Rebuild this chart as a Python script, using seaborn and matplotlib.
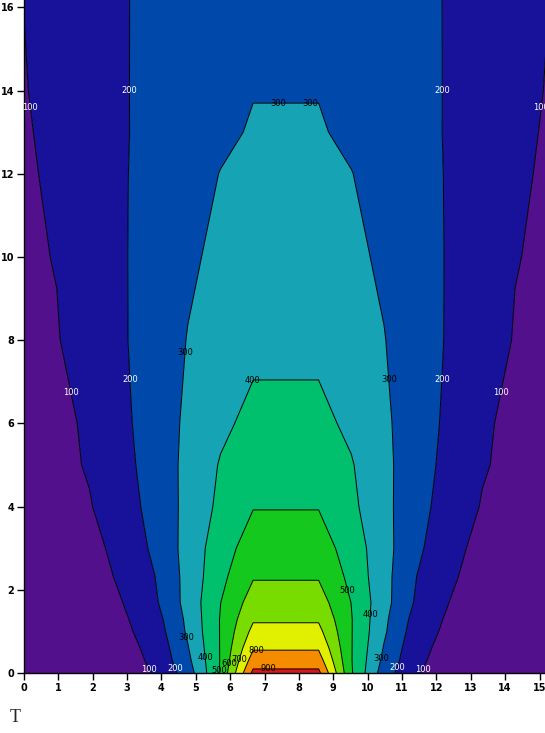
import numpy as np
import matplotlib
matplotlib.use("Agg")
import matplotlib.pyplot as plt
import seaborn as sns

# ---------------- data ----------------
x_cols = [0.0, 0.9525, 1.905, 2.8575, 3.81, 4.7625, 5.715, 6.6675, 7.62,
          8.5725, 9.525, 10.4775, 11.43, 12.3825, 13.335, 14.2875, 15.24]
t_rows = [0.0, 0.3, 0.6, 1.0, 1.3, 1.7, 2.3, 3.0, 4.0, 5.0, 6.0, 7.0, 8.0,
          10.0, 12.0, 13.0, 14.0, 16.2]
values = [
    [1, 3, 15, 60, 105, 247, 510, 925, 925, 925, 510, 247, 105, 60, 15, 3, 1],
    [2, 5, 20, 67, 115, 275, 505, 849, 849, 849, 505, 275, 115, 67, 20, 5, 2],
    [3, 7, 25, 70, 125, 293, 505, 790, 790, 790, 505, 293, 125, 70, 25, 7, 3],
    [4, 9, 30, 78, 145, 314, 505, 727, 727, 727, 505, 314, 145, 78, 30, 9, 4],
    [4, 10, 35, 85, 160, 321, 505, 688, 688, 688, 505, 321, 160, 85, 35, 10, 4],
    [5, 13, 42, 99, 185, 334, 498, 645, 645, 645, 498, 334, 185, 99, 42, 13, 5],
    [7, 18, 50, 118, 199, 332, 474, 594, 594, 594, 474, 332, 199, 118, 50, 18, 7],
    [15, 30, 64, 138, 217, 335, 456, 547, 547, 547, 456, 335, 217, 138, 64, 30, 15],
    [40, 60, 94, 158, 232, 327, 422, 496, 496, 496, 422, 327, 232, 158, 94, 60, 40],
    [55, 75, 108, 170, 242, 324, 407, 457, 457, 457, 407, 324, 242, 170, 108, 75, 55],
    [65, 80, 112, 179, 247, 317, 380, 426, 426, 426, 380, 317, 247, 179, 112, 80, 65],
    [72, 82, 131, 185, 248, 309, 355, 401, 401, 401, 355, 309, 248, 185, 131, 82, 72],
    [80, 95, 142, 190, 246, 303, 341, 379, 379, 379, 341, 303, 246, 190, 142, 95, 80],
    [88, 103, 149, 192, 239, 286, 319, 345, 345, 345, 319, 286, 239, 192, 149, 103, 88],
    [92, 110, 154, 193, 230, 267, 302, 318, 318, 318, 302, 267, 230, 193, 154, 110, 92],
    [94, 115, 157, 193, 224, 254, 284, 307, 307, 307, 284, 254, 224, 193, 157, 115, 94],
    [96, 126, 160, 194, 221, 246, 271, 297, 297, 297, 271, 246, 221, 194, 160, 126, 96],
    [101, 131, 163, 195, 217, 237, 258, 278, 278, 278, 258, 237, 217, 195, 163, 131, 101],
]
line_levels = [100, 200, 300, 400, 500, 600, 700, 800, 900]
fill_levels = [-1] + line_levels + [1000]
x_ticks = list(range(0, 16))
y_ticks = list(range(0, 17, 2))
axis_label = "T"

# label anchor spots (where the reference prints each contour value)
label_spots = {
    100: [(0.28, 13.6), (14.98, 13.6), (1.4, 6.74), (13.85, 6.74), (3.68, 0.1), (11.58, 0.1)],
    200: [(3.03, 14.0), (12.2, 14.0), (3.06, 7.05), (12.12, 7.05), (4.5, 0.15), (10.76, 0.15)],
    300: [(7.4, 13.73), (8.33, 13.73), (4.6, 7.7), (10.66, 7.05), (4.78, 0.87), (10.28, 0.36)],
    400: [(6.6, 7.05), (5.3, 0.37), (10.0, 1.41)],
    500: [(9.47, 2.0), (5.71, 0.05)],
    600: [(5.95, 0.22)],
    700: [(6.0, 0.4)],
    800: [(6.75, 0.62)],
    900: [(7.1, 0.05)],
}

# ---------------- style ----------------
band_colors = ["#53108C", "#18129A", "#0048AA", "#16A3B4", "#00C06E",
               "#14C81E", "#78DC00", "#E1F000", "#F58C00", "#DC141E"]

sns.set_style("ticks")
plt.rcParams['font.family'] = ['DejaVu Sans']

fig = plt.figure(figsize=(5.45, 7.33), dpi=100)
ax = fig.add_axes([24 / 545, 60 / 733, 521 / 545, 673 / 733])

X, Y = np.meshgrid(np.array(x_cols), np.array(t_rows))
Z = np.array(values, dtype=float)

ax.contourf(X, Y, Z, levels=fill_levels, colors=band_colors, antialiased=True)

for lev in line_levels:
    cs = ax.contour(X, Y, Z, levels=[lev], colors="black", linewidths=0.7)
    txts = ax.clabel(cs, manual=label_spots[lev], inline=False, fontsize=6, fmt="%d")
    for t in txts:
        t.set_rotation(0)
        t.set_color("white" if lev <= 200 else "black")

ax.set_xlim(0, 15.16)
ax.set_ylim(0, 16.18)
ax.set_xticks(x_ticks)
ax.set_yticks(y_ticks)
ax.set_xticklabels([str(v) for v in x_ticks])
ax.set_yticklabels([str(v) for v in y_ticks])
ax.tick_params(direction="out", length=5, width=1, labelsize=7, pad=2, colors="black")
for lbl in ax.get_xticklabels() + ax.get_yticklabels():
    lbl.set_fontweight("bold")
for side in ["top", "right"]:
    ax.spines[side].set_visible(False)
for side in ["left", "bottom"]:
    ax.spines[side].set_linewidth(1)
    ax.spines[side].set_color("black")

fig.text(15 / 545, 1 - 718 / 733, axis_label, fontsize=13,
         family=["Liberation Serif", "DejaVu Serif"], ha="center", va="center")

fig.savefig("out.png", dpi=100, facecolor="white")
